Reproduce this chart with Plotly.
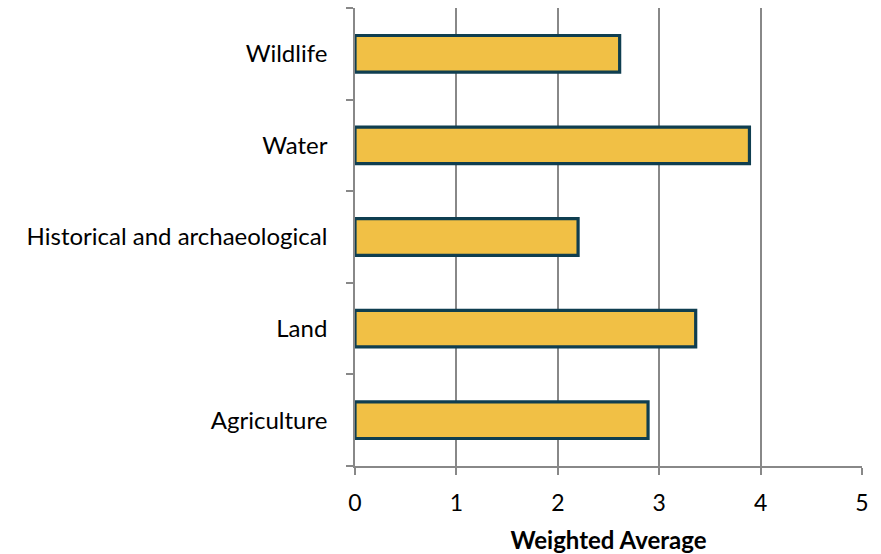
import plotly.graph_objects as go

categories = ["Agriculture", "Land", "Historical and archaeological", "Water", "Wildlife"]
values = [2.89, 3.36, 2.20, 3.89, 2.61]
x_ticks = [0, 1, 2, 3, 4, 5]

FONT = "Lato, 'Open Sans', sans-serif"
GRID = "#888888"

fig = go.Figure()
fig.add_trace(go.Bar(
    y=categories,
    x=values,
    orientation="h",
    width=0.4,
    marker=dict(color="#F1C045", line=dict(color="#0F3E50", width=3.2)),
    hoverinfo="x+y",
))

fig.update_layout(
    width=881,
    height=554,
    margin=dict(l=355, r=19, t=8, b=88, autoexpand=False),
    paper_bgcolor="white",
    plot_bgcolor="white",
    showlegend=False,
    font=dict(family=FONT, size=24, color="#000000"),
    xaxis=dict(
        range=[0, 5],
        tickvals=x_ticks,
        ticktext=[str(v) for v in x_ticks],
        showgrid=True,
        gridcolor=GRID,
        gridwidth=1.6,
        zeroline=False,
        showline=True,
        linecolor=GRID,
        linewidth=1.6,
        ticks="outside",
        ticklen=7,
        tickcolor=GRID,
        tickwidth=1.6,
        ticklabelstandoff=9,
        tickfont=dict(size=23),
        automargin=False,
        title=dict(text="<b>Weighted Average</b>", font=dict(size=24), standoff=19),
        fixedrange=True,
    ),
    yaxis=dict(
        categoryorder="array",
        categoryarray=categories,
        range=[-0.5, 4.5],
        showgrid=False,
        zeroline=False,
        showline=True,
        linecolor=GRID,
        linewidth=1.6,
        ticks="outside",
        tickson="boundaries",
        ticklen=7,
        tickcolor=GRID,
        tickwidth=1.6,
        ticklabelstandoff=21,
        tickfont=dict(size=24),
        automargin=False,
        fixedrange=True,
    ),
)

fig.write_html(
    "out.html",
    config={"displayModeBar": False},
    post_script="document.body.style.margin='0';document.body.style.overflow='hidden';",
)
